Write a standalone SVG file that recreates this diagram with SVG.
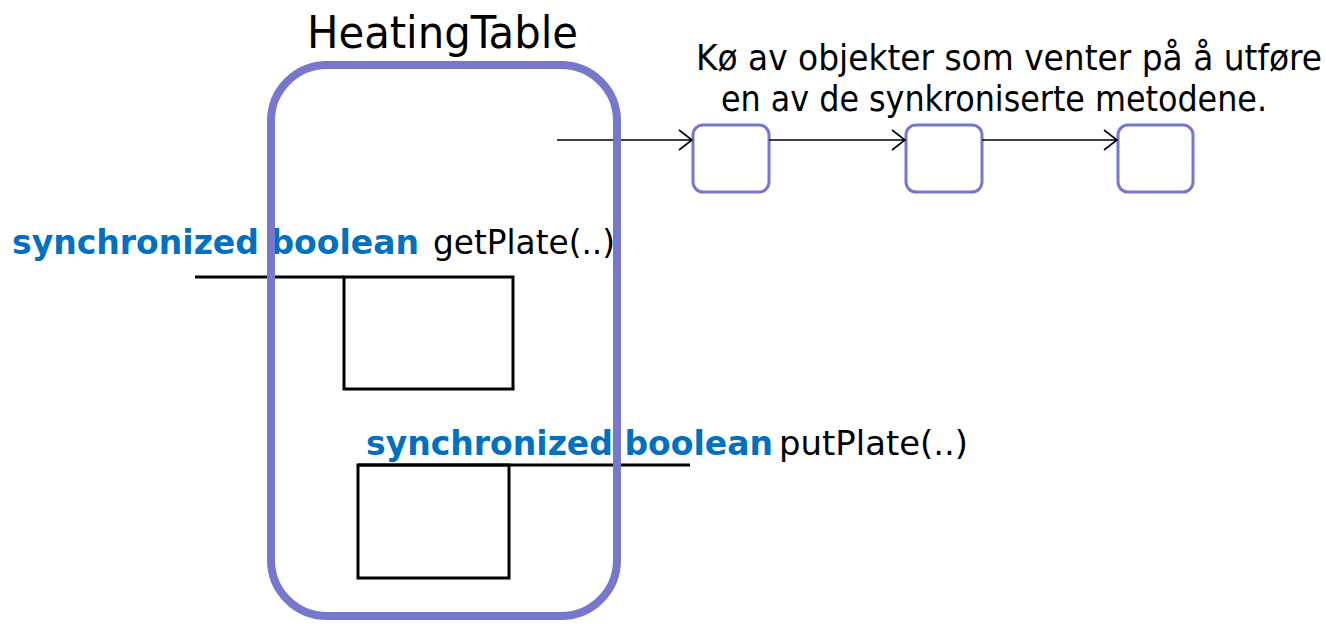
<svg xmlns="http://www.w3.org/2000/svg" width="1326" height="624" viewBox="0 0 1326 624">
<style>
.t{font-family:"DejaVu Sans Condensed","DejaVu Sans",sans-serif;fill:#000}
.kw{font-family:"DejaVu Sans Condensed","DejaVu Sans",sans-serif;font-weight:bold;fill:#0070C0}
.q{fill:#fff;stroke:#7777CC;stroke-width:3}
.blk{fill:none;stroke:#000;stroke-width:3}
.conn{fill:none;stroke:#000;stroke-width:1.6}
</style>
<rect width="1326" height="624" fill="#fff"/>
<g id="title"><text class="t" x="307" y="48" font-size="44" textLength="271" lengthAdjust="spacingAndGlyphs">HeatingTable</text></g>
<g id="queue-label">
<text class="t" x="696" y="70" font-size="35" textLength="626" lengthAdjust="spacingAndGlyphs">Kø av objekter som venter på å utføre</text>
<text class="t" x="721" y="111" font-size="35" textLength="546" lengthAdjust="spacingAndGlyphs">en av de synkroniserte metodene.</text>
</g>
<g id="q1"><rect class="q" x="693" y="125" width="76" height="67" rx="10"/></g>
<g id="q2"><rect class="q" x="906" y="125" width="76" height="67" rx="10"/></g>
<g id="q3"><rect class="q" x="1118" y="125" width="75" height="67" rx="10"/></g>
<g id="getPlate">
<text class="kw" x="12" y="254" font-size="34" textLength="407" lengthAdjust="spacingAndGlyphs">synchronized boolean</text>
<text class="t" x="433" y="254" font-size="34" textLength="182" lengthAdjust="spacingAndGlyphs">getPlate(..)</text>
<line class="blk" x1="195" y1="277" x2="344" y2="277"/>
<rect class="blk" x="344" y="277" width="169" height="112"/>
</g>
<g id="putPlate">
<text class="kw" x="366" y="455" font-size="34" textLength="407" lengthAdjust="spacingAndGlyphs">synchronized boolean</text>
<text class="t" x="779" y="455" font-size="34" textLength="189" lengthAdjust="spacingAndGlyphs">putPlate(..)</text>
<line class="blk" x1="358" y1="465" x2="690" y2="465"/>
<rect class="blk" x="358" y="465" width="151" height="113"/>
</g>
<g id="connectors">
<path class="conn" d="M557 140H692M679 130L692 140L679 150"/>
<path class="conn" d="M769 140H905M892 130L905 140L892 150"/>
<path class="conn" d="M982 140H1117M1104 130L1117 140L1104 150"/>
</g>
<g id="HeatingTable"><rect x="271" y="65" width="346" height="551" rx="56" fill="none" stroke="#7777CC" stroke-width="8"/></g>
</svg>
